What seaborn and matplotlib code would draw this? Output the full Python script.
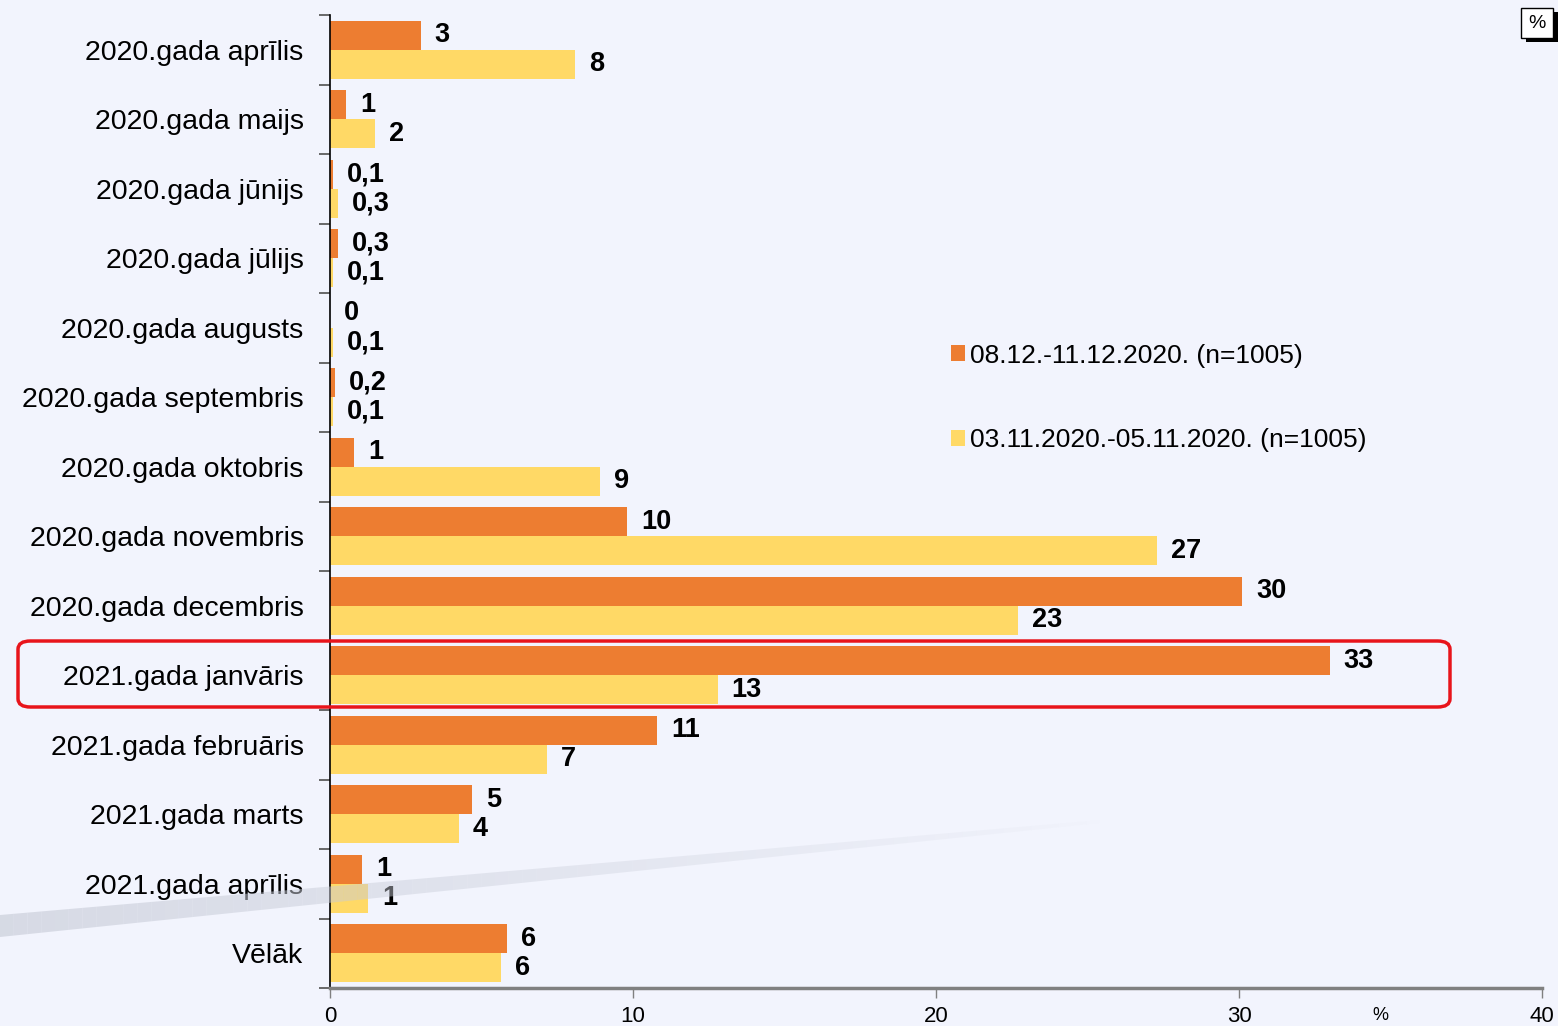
import numpy as np
import pandas as pd
import seaborn as sns
import matplotlib.pyplot as plt
from matplotlib.patches import FancyBboxPatch, Polygon, Rectangle

# categories (top to bottom)
months = ['2020.gada aprīlis', '2020.gada maijs', '2020.gada jūnijs', '2020.gada jūlijs',
          '2020.gada augusts', '2020.gada septembris', '2020.gada oktobris',
          '2020.gada novembris', '2020.gada decembris', '2021.gada janvāris',
          '2021.gada februāris', '2021.gada marts', '2021.gada aprīlis', 'Vēlāk']

series = ['08.12.-11.12.2020. (n=1005)', '03.11.2020.-05.11.2020. (n=1005)']

# bar lengths
dec_vals = [3.0, 0.53, 0.1, 0.26, 0.0, 0.17, 0.8, 9.8, 30.1, 33.0, 10.8, 4.7, 1.06, 5.85]
nov_vals = [8.1, 1.5, 0.26, 0.1, 0.1, 0.1, 8.9, 27.3, 22.7, 12.8, 7.15, 4.25, 1.25, 5.65]

# printed labels
dec_labels = ['3', '1', '0,1', '0,3', '0', '0,2', '1', '10', '30', '33', '11', '5', '1', '6']
nov_labels = ['8', '2', '0,3', '0,1', '0,1', '0,1', '9', '27', '23', '13', '7', '4', '1', '6']

colors = ['#ED7D31', '#FFD966']
bg = '#F2F4FD'

df = pd.DataFrame({
    'month': months * 2,
    'value': dec_vals + nov_vals,
    'series': [series[0]] * len(months) + [series[1]] * len(months),
})

W, H = 1558, 1026
fig = plt.figure(figsize=(W / 100, H / 100), dpi=100, facecolor=bg)
plt.rcParams['font.family'] = ['Liberation Sans', 'DejaVu Sans']


def px(x, y):
    return x / W, 1 - y / H


# faint diagonal swoosh in the background, fading to the right
n = 80
for i in range(n):
    xa = 1100 * i / n
    xb = 1100 * (i + 1) / n
    yb = lambda x: 937 - (937 - 823) * x / 1100
    yt = lambda x: 915 - (915 - 820) * x / 1100
    pts = [px(xa, yt(xa)), px(xa, yb(xa)), px(xb, yb(xb)), px(xb, yt(xb))]
    fig.patches.append(Polygon(pts, closed=True, transform=fig.transFigure,
                               facecolor='#C8CCD8', alpha=0.65 * (1 - i / n) ** 0.8,
                               edgecolor='none', zorder=0))

ax = fig.add_axes([330 / W, 1 - 988 / H, (1542 - 330) / W, (988 - 15) / H])
ax.patch.set_alpha(0)

sns.barplot(data=df, x='value', y='month', hue='series', palette=colors,
            orient='h', width=0.84, ax=ax, saturation=1, legend=True)

ax.bar_label(ax.containers[0], labels=dec_labels, padding=10,
             fontsize=19.5, fontweight='bold', color='black')
ax.bar_label(ax.containers[1], labels=nov_labels, padding=10,
             fontsize=19.5, fontweight='bold', color='black')

ax.set_xlim(0, 40)
ax.set_ylim(len(months) - 0.5, -0.5)
ax.set_xticks([0, 10, 20, 30, 40])
ax.set_xticklabels(['0', '10', '20', '30', '40'], fontsize=16)
ax.tick_params(axis='x', length=7, width=1, color='#808080', pad=6)
ax.tick_params(axis='y', which='major', length=0, pad=19, labelsize=20.5)
ax.set_yticks(np.arange(-0.5, len(months) + 0.5, 1), minor=True)
ax.tick_params(axis='y', which='minor', length=8, width=1.2, color='#505050')
ax.set_xlabel('')
ax.set_ylabel('')

for s in ['top', 'right']:
    ax.spines[s].set_visible(False)
ax.spines['left'].set_color('black')
ax.spines['left'].set_linewidth(1.2)
ax.spines['bottom'].set_color('#808080')
ax.spines['bottom'].set_linewidth(2.5)

fig.text(*px(1380, 1016), '%', fontsize=13, ha='center', va='center')

leg = ax.legend(loc='upper left', bbox_to_anchor=(940 / W, 1 - 333 / H),
                bbox_transform=fig.transFigure, frameon=False, fontsize=19,
                handlelength=0.55, handleheight=0.55, handletextpad=0.2,
                labelspacing=2.3, borderaxespad=0)

# highlight box around 2021 January
x0, y0 = px(18, 707)
x1, y1 = px(1450, 641)
fig.patches.append(FancyBboxPatch((x0, y0), x1 - x0, y1 - y0,
                                  boxstyle='round,pad=0,rounding_size=0.008',
                                  transform=fig.transFigure, facecolor='none',
                                  edgecolor='#E8141B', linewidth=2.5, zorder=10))

# small "%" badge top right
sx, sy = px(1526, 42)
fig.patches.append(Rectangle((sx, sy), 32 / W, 30 / H, transform=fig.transFigure,
                             facecolor='black', edgecolor='none', zorder=10))
bx, by = px(1521, 38)
fig.patches.append(Rectangle((bx, by), 32 / W, 30 / H, transform=fig.transFigure,
                             facecolor='white', edgecolor='black', linewidth=1, zorder=11))
fig.text(*px(1537, 23), '%', fontsize=14, ha='center', va='center', zorder=12)

fig.savefig('out.png', dpi=100, facecolor=bg)
